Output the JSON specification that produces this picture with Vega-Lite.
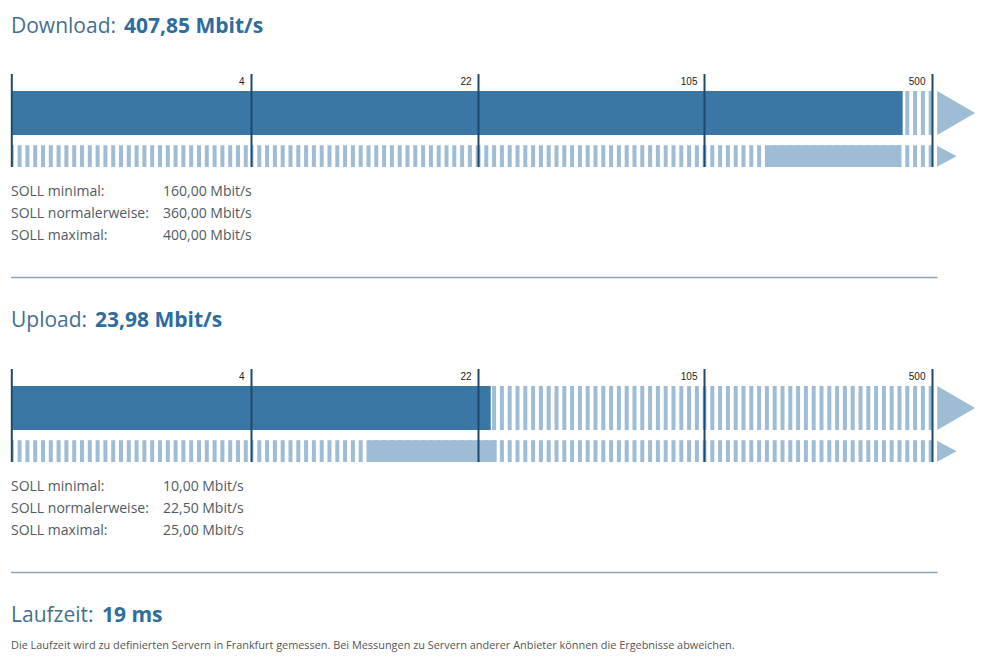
{
  "$schema": "https://vega.github.io/schema/vega-lite/v6.json",
  "padding": 0,
  "background": "white",
  "bounds": "flush",
  "spacing": 0,
  "config": {"view": {"stroke": null}, "concat": {"spacing": 0}},
  "datasets": {
    "ticks": [{"v": 0}, {"v": 4}, {"v": 22}, {"v": 105}, {"v": 500}],
    "segments": [{"from": 0, "to": 4}, {"from": 4, "to": 22}, {"from": 22, "to": 105}, {"from": 105, "to": 500}],
    "download": [{"label": "Download:", "valueText": "407,85 Mbit/s", "measured": 407.85, "min": 160, "normal": 360, "max": 400}],
    "download_soll": [
      {"row": "min", "label": "SOLL minimal:", "value": "160,00 Mbit/s"},
      {"row": "normal", "label": "SOLL normalerweise:", "value": "360,00 Mbit/s"},
      {"row": "max", "label": "SOLL maximal:", "value": "400,00 Mbit/s"}
    ],
    "upload": [{"label": "Upload:", "valueText": "23,98 Mbit/s", "measured": 23.98, "min": 10, "normal": 22.5, "max": 25}],
    "upload_soll": [
      {"row": "min", "label": "SOLL minimal:", "value": "10,00 Mbit/s"},
      {"row": "normal", "label": "SOLL normalerweise:", "value": "22,50 Mbit/s"},
      {"row": "max", "label": "SOLL maximal:", "value": "25,00 Mbit/s"}
    ],
    "latency": [{"label": "Laufzeit:", "valueText": "19 ms", "note": "Die Laufzeit wird zu definierten Servern in Frankfurt gemessen. Bei Messungen zu Servern anderer Anbieter können die Ergebnisse abweichen."}]
  },
  "vconcat": [
    {
      "width": 998, "height": 74,
      "data": {"name": "download"},
      "layer": [
        {"mark": {"type": "text", "align": "left", "baseline": "alphabetic", "dy": -4.5, "font": "Open Sans", "fontSize": 21, "color": "#44708f"},
         "encoding": {"x": {"datum": "label", "type": "nominal", "scale": {"type": "point", "domain": ["label", "value"], "range": [11, 124], "padding": 0}, "axis": null}, "text": {"field": "label", "type": "nominal"}}},
        {"mark": {"type": "text", "align": "left", "baseline": "alphabetic", "dy": -4.5, "font": "Open Sans", "fontSize": 21, "fontWeight": "bold", "color": "#2e6c9c"},
         "encoding": {"x": {"datum": "value", "type": "nominal", "axis": null}, "text": {"field": "valueText", "type": "nominal"}}}
      ]
    },
    {
      "width": 998, "height": 93,
      "layer": [
        {"data": {"name": "segments"},
         "mark": {"type": "rule", "clip": true, "strokeWidth": 44, "strokeDash": [4, 3.8], "strokeDashOffset": 2, "color": "#9ebcd3"},
         "encoding": {
           "x": {"field": "from", "type": "quantitative", "scale": {"type": "symlog", "domain": [0, 4, 22, 105, 500], "range": [11.8, 251.5, 478.5, 704.5, 932.5], "nice": false, "zero": false}, "axis": null},
           "x2": {"field": "to"},
           "y": {"datum": "measured", "type": "nominal", "scale": {"type": "point", "domain": ["measured", "expected"], "padding": 0.574, "align": 0.785}, "axis": null}}},
        {"data": {"name": "segments"},
         "mark": {"type": "rule", "clip": true, "strokeWidth": 22, "strokeDash": [4, 3.8], "strokeDashOffset": 2, "color": "#9ebcd3"},
         "encoding": {"x": {"field": "from", "type": "quantitative", "axis": null}, "x2": {"field": "to"}, "y": {"datum": "expected", "type": "nominal", "axis": null}}},
        {"data": {"name": "download"},
         "mark": {"type": "rule", "clip": true, "strokeWidth": 22, "color": "#9ebcd3"},
         "encoding": {"x": {"field": "min", "type": "quantitative", "axis": null}, "x2": {"field": "max"}, "y": {"datum": "expected", "type": "nominal", "axis": null}}},
        {"data": {"name": "download"},
         "mark": {"type": "bar", "height": 44, "color": "#3a77a4", "orient": "horizontal"},
         "encoding": {"x": {"field": "measured", "type": "quantitative", "axis": null}, "y": {"datum": "measured", "type": "nominal", "axis": null}}},
        {"data": {"name": "download"},
         "mark": {"type": "point", "shape": "M-0.86,-1L0.86,0L-0.86,1Z", "size": 1936, "filled": true, "opacity": 1, "color": "#9ebcd3", "xOffset": 23.7},
         "encoding": {"x": {"datum": 500, "type": "quantitative", "axis": null}, "y": {"datum": "measured", "type": "nominal", "axis": null}}},
        {"data": {"name": "download"},
         "mark": {"type": "point", "shape": "M-0.93,-1L0.93,0L-0.93,1Z", "size": 441, "filled": true, "opacity": 1, "color": "#9ebcd3", "xOffset": 14.3},
         "encoding": {"x": {"datum": 500, "type": "quantitative", "axis": null}, "y": {"datum": "expected", "type": "nominal", "axis": null}}},
        {"data": {"name": "ticks"},
         "mark": {"type": "rule", "clip": true, "strokeWidth": 2, "color": "#1c4a6e"},
         "encoding": {"x": {"field": "v", "type": "quantitative", "axis": null}}},
        {"data": {"name": "ticks"},
         "transform": [{"filter": "datum.v > 0"}],
         "mark": {"type": "text", "align": "right", "baseline": "middle", "dx": -7, "dy": -31, "font": "Liberation Sans", "fontSize": 10, "color": "#222222"},
         "encoding": {"x": {"field": "v", "type": "quantitative", "axis": null}, "y": {"datum": "measured", "type": "nominal", "axis": null}, "text": {"field": "v", "type": "quantitative", "format": "d"}}}
      ]
    },
    {
      "width": 998, "height": 89,
      "data": {"name": "download_soll"},
      "encoding": {"y": {"field": "row", "type": "nominal", "scale": {"type": "point", "domain": ["min", "normal", "max"], "padding": 1.119}, "axis": null}},
      "layer": [
        {"mark": {"type": "text", "align": "left", "baseline": "alphabetic", "dy": 6.6, "font": "Open Sans", "fontSize": 14, "color": "#505a64"},
         "encoding": {"x": {"datum": "label", "type": "nominal", "scale": {"type": "point", "domain": ["label", "value"], "range": [11, 163], "padding": 0}, "axis": null}, "text": {"field": "label", "type": "nominal"}}},
        {"mark": {"type": "text", "align": "left", "baseline": "alphabetic", "dy": 6.6, "font": "Open Sans", "fontSize": 14, "color": "#505a64"},
         "encoding": {"x": {"datum": "value", "type": "nominal", "axis": null}, "text": {"field": "value", "type": "nominal"}}}
      ]
    },
    {
      "width": 998, "height": 43,
      "data": {"name": "ticks"},
      "mark": {"type": "rule", "strokeWidth": 1.5, "color": "#8fa3b3"},
      "encoding": {"x": {"aggregate": "min", "field": "v", "type": "quantitative", "scale": {"domain": [0, 500], "range": [11, 937.5]}, "axis": null}, "x2": {"aggregate": "max", "field": "v"}}
    },
    {
      "width": 998, "height": 70,
      "data": {"name": "upload"},
      "layer": [
        {"mark": {"type": "text", "align": "left", "baseline": "alphabetic", "dy": -6.7, "font": "Open Sans", "fontSize": 21, "color": "#44708f"},
         "encoding": {"x": {"datum": "label", "type": "nominal", "scale": {"type": "point", "domain": ["label", "value"], "range": [11, 95], "padding": 0}, "axis": null}, "text": {"field": "label", "type": "nominal"}}},
        {"mark": {"type": "text", "align": "left", "baseline": "alphabetic", "dy": -6.7, "font": "Open Sans", "fontSize": 21, "fontWeight": "bold", "color": "#2e6c9c"},
         "encoding": {"x": {"datum": "value", "type": "nominal", "axis": null}, "text": {"field": "valueText", "type": "nominal"}}}
      ]
    },
    {
      "width": 998, "height": 93,
      "layer": [
        {"data": {"name": "segments"},
         "mark": {"type": "rule", "clip": true, "strokeWidth": 44, "strokeDash": [4, 3.8], "strokeDashOffset": 2, "color": "#9ebcd3"},
         "encoding": {
           "x": {"field": "from", "type": "quantitative", "scale": {"type": "symlog", "domain": [0, 4, 22, 105, 500], "range": [11.8, 251.5, 478.5, 704.5, 932.5], "nice": false, "zero": false}, "axis": null},
           "x2": {"field": "to"},
           "y": {"datum": "measured", "type": "nominal", "scale": {"type": "point", "domain": ["measured", "expected"], "padding": 0.574, "align": 0.785}, "axis": null}}},
        {"data": {"name": "segments"},
         "mark": {"type": "rule", "clip": true, "strokeWidth": 22, "strokeDash": [4, 3.8], "strokeDashOffset": 2, "color": "#9ebcd3"},
         "encoding": {"x": {"field": "from", "type": "quantitative", "axis": null}, "x2": {"field": "to"}, "y": {"datum": "expected", "type": "nominal", "axis": null}}},
        {"data": {"name": "upload"},
         "mark": {"type": "rule", "clip": true, "strokeWidth": 22, "color": "#9ebcd3"},
         "encoding": {"x": {"field": "min", "type": "quantitative", "axis": null}, "x2": {"field": "max"}, "y": {"datum": "expected", "type": "nominal", "axis": null}}},
        {"data": {"name": "upload"},
         "mark": {"type": "bar", "height": 44, "color": "#3a77a4", "orient": "horizontal"},
         "encoding": {"x": {"field": "measured", "type": "quantitative", "axis": null}, "y": {"datum": "measured", "type": "nominal", "axis": null}}},
        {"data": {"name": "upload"},
         "mark": {"type": "point", "shape": "M-0.86,-1L0.86,0L-0.86,1Z", "size": 1936, "filled": true, "opacity": 1, "color": "#9ebcd3", "xOffset": 23.7},
         "encoding": {"x": {"datum": 500, "type": "quantitative", "axis": null}, "y": {"datum": "measured", "type": "nominal", "axis": null}}},
        {"data": {"name": "upload"},
         "mark": {"type": "point", "shape": "M-0.93,-1L0.93,0L-0.93,1Z", "size": 441, "filled": true, "opacity": 1, "color": "#9ebcd3", "xOffset": 14.3},
         "encoding": {"x": {"datum": 500, "type": "quantitative", "axis": null}, "y": {"datum": "expected", "type": "nominal", "axis": null}}},
        {"data": {"name": "ticks"},
         "mark": {"type": "rule", "clip": true, "strokeWidth": 2, "color": "#1c4a6e"},
         "encoding": {"x": {"field": "v", "type": "quantitative", "axis": null}}},
        {"data": {"name": "ticks"},
         "transform": [{"filter": "datum.v > 0"}],
         "mark": {"type": "text", "align": "right", "baseline": "middle", "dx": -7, "dy": -31, "font": "Liberation Sans", "fontSize": 10, "color": "#222222"},
         "encoding": {"x": {"field": "v", "type": "quantitative", "axis": null}, "y": {"datum": "measured", "type": "nominal", "axis": null}, "text": {"field": "v", "type": "quantitative", "format": "d"}}}
      ]
    },
    {
      "width": 998, "height": 89,
      "data": {"name": "upload_soll"},
      "encoding": {"y": {"field": "row", "type": "nominal", "scale": {"type": "point", "domain": ["min", "normal", "max"], "padding": 1.119}, "axis": null}},
      "layer": [
        {"mark": {"type": "text", "align": "left", "baseline": "alphabetic", "dy": 6.6, "font": "Open Sans", "fontSize": 14, "color": "#505a64"},
         "encoding": {"x": {"datum": "label", "type": "nominal", "scale": {"type": "point", "domain": ["label", "value"], "range": [11, 163], "padding": 0}, "axis": null}, "text": {"field": "label", "type": "nominal"}}},
        {"mark": {"type": "text", "align": "left", "baseline": "alphabetic", "dy": 6.6, "font": "Open Sans", "fontSize": 14, "color": "#505a64"},
         "encoding": {"x": {"datum": "value", "type": "nominal", "axis": null}, "text": {"field": "value", "type": "nominal"}}}
      ]
    },
    {
      "width": 998, "height": 43,
      "data": {"name": "ticks"},
      "mark": {"type": "rule", "strokeWidth": 1.5, "color": "#8fa3b3"},
      "encoding": {"x": {"aggregate": "min", "field": "v", "type": "quantitative", "scale": {"domain": [0, 500], "range": [11, 937.5]}, "axis": null}, "x2": {"aggregate": "max", "field": "v"}}
    },
    {
      "width": 998, "height": 35,
      "data": {"name": "latency"},
      "layer": [
        {"mark": {"type": "text", "align": "left", "baseline": "alphabetic", "dy": 10.2, "font": "Open Sans", "fontSize": 21, "color": "#44708f"},
         "encoding": {"x": {"datum": "label", "type": "nominal", "scale": {"type": "point", "domain": ["label", "value"], "range": [11, 102], "padding": 0}, "axis": null}, "text": {"field": "label", "type": "nominal"}}},
        {"mark": {"type": "text", "align": "left", "baseline": "alphabetic", "dy": 10.2, "font": "Open Sans", "fontSize": 21, "fontWeight": "bold", "color": "#2e6c9c"},
         "encoding": {"x": {"datum": "value", "type": "nominal", "axis": null}, "text": {"field": "valueText", "type": "nominal"}}}
      ]
    },
    {
      "width": 998, "height": 36,
      "data": {"name": "latency"},
      "mark": {"type": "text", "align": "left", "baseline": "alphabetic", "dy": 2, "font": "Open Sans", "fontSize": 10.9, "color": "#555555"},
      "encoding": {"x": {"datum": "label", "type": "nominal", "scale": {"type": "point", "domain": ["label", "value"], "range": [11, 102], "padding": 0}, "axis": null}, "text": {"field": "note", "type": "nominal"}}
    }
  ]
}
